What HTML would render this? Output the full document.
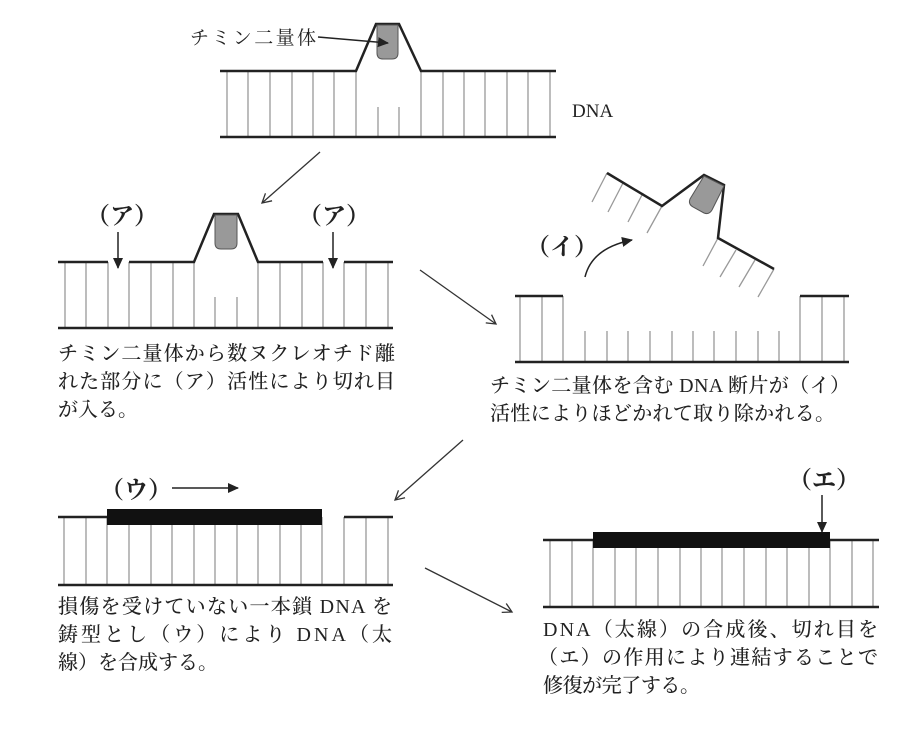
<!DOCTYPE html>
<html><head><meta charset="utf-8"><style>
html,body{margin:0;padding:0;background:#fff}
svg{display:block}
.t{font-family:"Liberation Serif","Noto Serif CJK JP","Noto Serif CJK SC",serif;font-size:20px;fill:#222;font-weight:500}
.l{font-family:"Liberation Serif","Noto Serif CJK JP","Noto Serif CJK SC",serif;font-size:24px;fill:#222;font-weight:700}
</style></head><body>
<svg width="909" height="729" viewBox="0 0 909 729" xmlns="http://www.w3.org/2000/svg">
<defs>
<marker id="open" markerWidth="12" markerHeight="12" refX="10" refY="6" orient="auto" markerUnits="userSpaceOnUse"><path d="M1,1 L10,6 L1,11" fill="none" stroke="#333" stroke-width="1.3"/></marker>
<marker id="fill" markerWidth="12" markerHeight="12" refX="10" refY="6" orient="auto" markerUnits="userSpaceOnUse"><path d="M0,1 L11,6 L0,11 Z" fill="#222"/></marker>
</defs>
<g stroke="#999" stroke-width="1.3">
<path d="M227,71V137M248,71V137M270,71V137M292,71V137M313,71V137M334,71V137M356,71V137M421,71V137M443,71V137M464,71V137M485,71V137M507,71V137M528,71V137M550,71V137M378,107V137M399,107V137"/>
<path d="M65,262V328M86,262V328M108,262V328M129,262V328M151,262V328M173,262V328M194,262V328M258,262V328M280,262V328M302,262V328M323,262V328M344,262V328M366,262V328M388,262V328M215,297V328M237,297V328"/>
<path d="M520,296V362M542,296V362M563,296V362M800,296V362M822,296V362M844,296V362M585,331V362M607,331V362M628,331V362M650,331V362M672,331V362M693,331V362M714,331V362M736,331V362M758,331V362M779,331V362"/>
<path d="M607,173L592,202M623,183L608,212M643,193L628,222M662,206L647,233M718,238L703,266M736,250L720,277M755,260L739,287M774,269L758,297"/>
<path d="M64,517V585M86,517V585M107,517V585M129,517V585M151,517V585M172,517V585M194,517V585M215,517V585M237,517V585M258,517V585M280,517V585M301,517V585M322,517V585M344,517V585M366,517V585M388,517V585"/>
<path d="M550,540V607M572,540V607M593,540V607M615,540V607M636,540V607M658,540V607M680,540V607M701,540V607M722,540V607M744,540V607M766,540V607M787,540V607M809,540V607M830,540V607M852,540V607M873,540V607"/>
</g>
<g stroke="#222" stroke-width="2.5" fill="none">
<path d="M220,71H356L376,24H399L421,71H556M220,137H556"/>
<path d="M58,262H108M129,262H194L214,214H238L258,262H323M344,262H393M58,328H393"/>
<path d="M515,296H563M800,296H849M515,362H849"/>
<path d="M607,173L662,206L704,175L724,185L718,238L774,269"/>
<path d="M58,517H107M344,517H393M58,585H393"/>
<path d="M543,540H879M543,607H879"/>
</g>
<g fill="#999" stroke="#555" stroke-width="1">
<path d="M377,25H398V53Q398,59 392,59H383Q377,59 377,53Z"/>
<path d="M215,215H237V243Q237,249 231,249H221Q215,249 215,243Z"/>
<path d="M704,176L724,186L712,210Q709,215 704,213L693,207Q688,204 690,199Z"/>
</g>
<rect x="107" y="509" width="215" height="16" fill="#111"/>
<rect x="593" y="532" width="237" height="16" fill="#111"/>
<g stroke="#222" stroke-width="1.5" fill="none">
<path d="M318,37L388,43" marker-end="url(#fill)"/>
<path d="M118,232V268" marker-end="url(#fill)"/>
<path d="M333,232V268" marker-end="url(#fill)"/>
<path d="M585,277Q592,248 632,240" marker-end="url(#fill)"/>
<path d="M172,488H238" marker-end="url(#fill)"/>
<path d="M822,495V532" marker-end="url(#fill)"/>
</g>
<g stroke="#333" stroke-width="1.3" fill="none">
<path d="M320,152L262,203" marker-end="url(#open)"/>
<path d="M420,270L496,324" marker-end="url(#open)"/>
<path d="M463,440L395,500" marker-end="url(#open)"/>
<path d="M425,568L512,612" marker-end="url(#open)"/>
</g>
<text class="t" x="190" y="44" style="font-weight:400;font-size:19px" textLength="126">チミン二量体</text>
<text class="t" x="572" y="117" style="font-weight:400;font-size:19px">DNA</text>
<text class="l" x="86" y="224">（ア）</text>
<text class="l" x="298" y="224">（ア）</text>
<text class="l" x="526" y="255">（イ）</text>
<text class="l" x="100" y="498">（ウ）</text>
<text class="l" x="788" y="488">（エ）</text>
<text class="t" x="58" y="360" textLength="337">チミン二量体から数ヌクレオチド離</text>
<text class="t" x="58" y="388" textLength="337">れた部分に（ア）活性により切れ目</text>
<text class="t" x="58" y="416">が入る。</text>
<text class="t" x="490" y="392" textLength="360">チミン二量体を含む DNA 断片が（イ）</text>
<text class="t" x="490" y="420" textLength="345">活性によりほどかれて取り除かれる。</text>
<text class="t" x="58" y="613" textLength="334">損傷を受けていない一本鎖 DNA を</text>
<text class="t" x="58" y="641" textLength="334">鋳型とし（ウ）により DNA（太</text>
<text class="t" x="58" y="669" textLength="160">線）を合成する。</text>
<text class="t" x="543" y="636" textLength="335">DNA（太線）の合成後、切れ目を</text>
<text class="t" x="538" y="664" textLength="340">（エ）の作用により連結することで</text>
<text class="t" x="543" y="692" textLength="157">修復が完了する。</text>
</svg>
</body></html>
